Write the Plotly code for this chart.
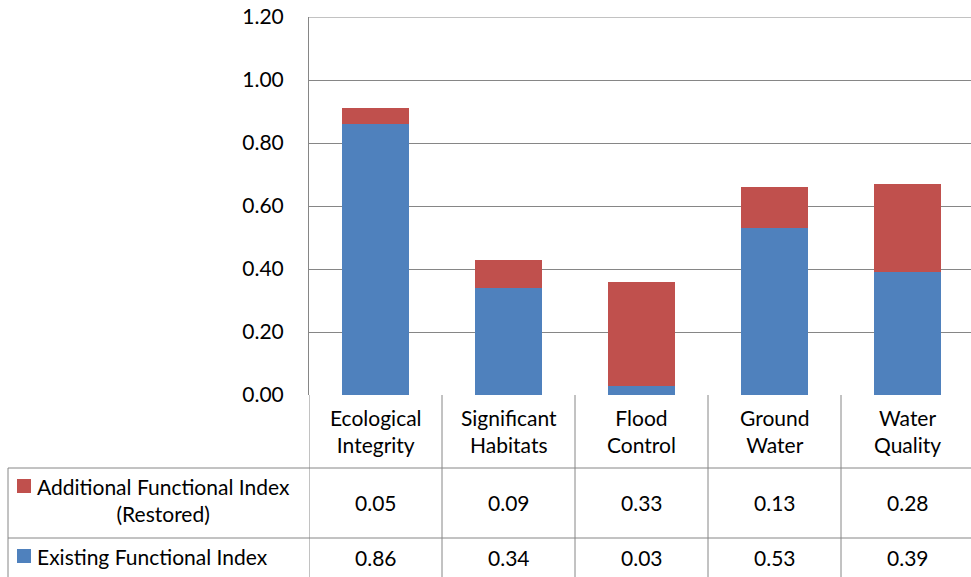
import plotly.graph_objects as go

categories = ["Ecological<br>Integrity", "Significant<br>Habitats", "Flood<br>Control", "Ground<br>Water", "Water<br>Quality"]
existing = [0.86, 0.34, 0.03, 0.53, 0.39]
additional = [0.05, 0.09, 0.33, 0.13, 0.28]
series_names = ["Additional Functional Index<br>(Restored)", "Existing Functional Index"]
y_ticks = [0, 0.2, 0.4, 0.6, 0.8, 1.0, 1.2]

BLUE = "#4F81BD"
RED = "#C0504D"
GRID = "#868686"
FONT = "Lato"
FS = 21

# body margin removed by post_script, so figure pixels == screen pixels
W, H = 971, 577
PL, PT, PB, PR = 309, 17, 395, 971  # plot area in screen px
L, T = PL, PT
B = H - PB
plot_w = PR - PL
cat_px = 133.0

xs = list(range(len(categories)))

fig = go.Figure()
fig.add_trace(go.Bar(x=xs, y=existing, marker=dict(color=BLUE, line=dict(width=0)), name="Existing"))
fig.add_trace(go.Bar(x=xs, y=additional, marker=dict(color=RED, line=dict(width=0)), name="Additional"))

def px_to_paper_x(px):
    return (px - PL) / plot_w

def py_to_paper_y(py):
    return (PB - py) / (PB - PT)

shapes = []
annotations = []
line = dict(color=GRID, width=1)

# top gridline (edge of plot area)
shapes.append(dict(type="line", xref="paper", yref="y", x0=0, x1=1, y0=y_ticks[-1], y1=y_ticks[-1], line=line))

# vertical category separators in the table
for i in range(len(categories)):
    shapes.append(dict(type="line", xref="x", yref="paper", x0=i - 0.5, x1=i - 0.5,
                       y0=py_to_paper_y(580), y1=0, line=line))
# horizontal table lines
for py in [468, 538]:
    shapes.append(dict(type="line", xref="paper", yref="paper", x0=px_to_paper_x(8), x1=1,
                       y0=py_to_paper_y(py), y1=py_to_paper_y(py), line=line))
# left border of label column
shapes.append(dict(type="line", xref="paper", yref="paper", x0=px_to_paper_x(8), x1=px_to_paper_x(8),
                   y0=py_to_paper_y(580), y1=py_to_paper_y(468), line=line))

txtfont = dict(size=FS, color="black", family=FONT)
# category header text
for i, c in enumerate(categories):
    annotations.append(dict(x=i, y=py_to_paper_y(431), xref="x", yref="paper", text=c,
                            showarrow=False, align="center", xanchor="center", yanchor="middle",
                            font=txtfont))
# value rows
for vals, py in [(additional, 503), (existing, 557)]:
    for i, v in enumerate(vals):
        annotations.append(dict(x=i, y=py_to_paper_y(py), xref="x", yref="paper", text=f"{v:.2f}",
                                showarrow=False, xanchor="center", yanchor="middle", font=txtfont))

# legend keys in table
for name, color, py_txt, py_sq in [(series_names[0], RED, 500, 486), (series_names[1], BLUE, 556, 556)]:
    shapes.append(dict(type="rect", xref="paper", yref="paper", x0=px_to_paper_x(17), x1=px_to_paper_x(31),
                       y0=py_to_paper_y(py_sq + 7), y1=py_to_paper_y(py_sq - 7), fillcolor=color, line=dict(width=0)))
    annotations.append(dict(x=px_to_paper_x(35), y=py_to_paper_y(py_txt), xref="paper", yref="paper", text=name,
                            showarrow=False, xanchor="left", yanchor="middle", align="center",
                            font=txtfont))

fig.update_layout(
    width=W, height=H,
    margin=dict(l=L, r=0, t=T, b=B, pad=0, autoexpand=False),
    barmode="stack",
    bargap=0.49,
    showlegend=False,
    plot_bgcolor="white", paper_bgcolor="white",
    font=dict(family=FONT, size=FS, color="black"),
    shapes=shapes,
    annotations=annotations,
    xaxis=dict(range=[-0.5, -0.5 + plot_w / cat_px], showticklabels=False, showgrid=False,
               zeroline=False, showline=False, fixedrange=True, automargin=False),
    yaxis=dict(range=[0, 1.2], tickvals=y_ticks, tickformat=".2f", showgrid=True, gridcolor=GRID,
               gridwidth=1, zeroline=False, showline=True, linecolor=GRID, linewidth=1, automargin=False,
               ticks="", ticklabelstandoff=20, ticklabeloverflow="allow", tickfont=txtfont),
)

fig.write_html("out.html", config={"displayModeBar": False, "staticPlot": True},
               post_script="document.body.style.margin='0px'; document.body.style.overflow='hidden';")
